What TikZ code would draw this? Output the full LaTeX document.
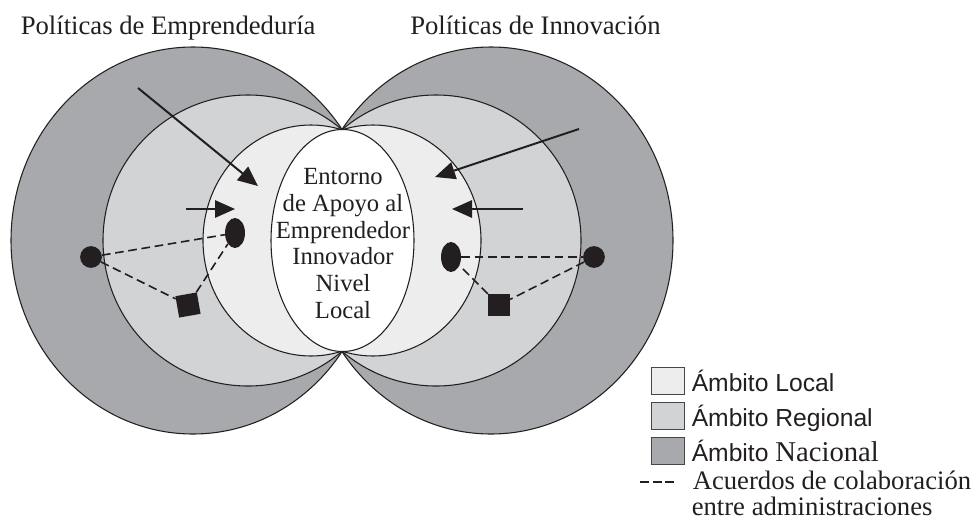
\documentclass[tikz,border=0pt]{standalone}
\usepackage{fontspec}
\setmainfont{Liberation Serif}
\setsansfont{Liberation Sans}
\usetikzlibrary{arrows.meta,shapes.geometric}
\definecolor{nat}{RGB}{167,169,172}
\definecolor{reg}{RGB}{209,211,212}
\definecolor{loc}{RGB}{237,237,237}
\definecolor{ink}{RGB}{35,31,32}
\definecolor{boxrim}{RGB}{70,70,70}
\begin{document}
\begin{tikzpicture}[x=0.75pt,y=-0.75pt,
  rim/.style={draw=ink, line width=0.8pt},
  arr/.style={draw=ink, line width=1.5pt, -{Triangle[length=15pt,width=13pt]}},
  dotcirc/.style={circle, fill=ink, inner sep=0pt, minimum size=16.3pt},
  dotell/.style={ellipse, fill=ink, inner sep=0pt, minimum width=15pt, minimum height=22.5pt},
  dotsq/.style={rectangle, fill=ink, inner sep=0pt, minimum size=16.3pt},
  link/.style={draw=ink, line width=1.2pt, dash pattern=on 6.5pt off 3.5pt},
  legbox/.style={rectangle, draw=boxrim, line width=0.6pt, inner sep=0pt, minimum width=24.5pt, minimum height=19.9pt},
  title/.style={anchor=base west, inner sep=0pt, text=ink, font=\fontsize{20}{24}\selectfont},
  legsans/.style={anchor=base west, inner sep=0pt, text=ink, font=\sffamily\fontsize{18.5}{20}\selectfont},
  legserif/.style={anchor=base west, inner sep=0pt, text=ink, font=\fontsize{20}{24}\selectfont}
]
\useasboundingbox (0,0) rectangle (977,529);

% left group
\begin{scope}
\clip (0,0) rectangle (342,529);
\filldraw[fill=nat, rim] (193,240.5) ellipse [x radius=182, y radius=193.5];
\filldraw[fill=reg, rim] (248,240.5) ellipse [x radius=145, y radius=145.5];
\filldraw[fill=loc, rim] (311,240.5) ellipse [x radius=108, y radius=115.5];
\end{scope}
% right group
\begin{scope}
\clip (342,0) rectangle (977,529);
\filldraw[fill=nat, rim] (491,240.5) ellipse [x radius=182, y radius=193.5];
\filldraw[fill=reg, rim] (436,240.5) ellipse [x radius=145, y radius=145.5];
\filldraw[fill=loc, rim] (373,240.5) ellipse [x radius=108, y radius=115.5];
\end{scope}
% centre
\filldraw[fill=white, rim] (342.5,240.5) ellipse [x radius=71.5, y radius=111];
\node[align=center, inner sep=0pt, text=ink, font=\fontsize{18.5}{20}\selectfont] (centro) at (343,243.5)
  {Entorno\\de Apoyo al\\Emprendedor\\Innovador\\Nivel\\Local};

% titles
\node[title] (t1) at (20.5,34) {Políticas de Emprendeduría};
\node[title] (t2) at (410,34) {Políticas de Innovación};

% arrows
\coordinate (a1s) at (138,88);  \coordinate (a1e) at (258,186);
\coordinate (a2s) at (186,209); \coordinate (a2e) at (235,209);
\coordinate (a3s) at (579,129); \coordinate (a3e) at (435,177);
\coordinate (a4s) at (523,209); \coordinate (a4e) at (452,209);
\draw[arr] (a1s) -- (a1e);
\draw[arr] (a2s) -- (a2e);
\draw[arr] (a3s) -- (a3e);
\draw[arr] (a4s) -- (a4e);

% actors left
\node[dotcirc] (lc) at (91,257) {};
\node[dotell] (le) at (235,233) {};
\node[dotsq, rotate=10] (ls) at (188,305) {};
\draw[link] (lc) -- (le);
\draw[link] (lc) -- (ls);
\draw[link] (ls) -- (le);
% actors right
\node[dotcirc] (rc) at (594,257) {};
\node[dotell] (re) at (451,257) {};
\node[dotsq] (rs) at (499,305) {};
\draw[link] (re) -- (rc);
\draw[link] (rc) -- (rs);
\draw[link] (rs) -- (re);

% legend
\node[legbox, fill=loc] (b1) at (668,381) {};
\node[legbox, fill=reg] (b2) at (668,416) {};
\node[legbox, fill=nat] (b3) at (668,451) {};
\node[legsans] (l1) at (691.5,391.7) {Ámbito Local};
\node[legsans] (l2) at (691.5,426.7) {Ámbito Regional};
\node[legsans] (l3) at (691.5,461) {Ámbito {\rmfamily\fontsize{21.5}{26}\selectfont Nacional}};
\coordinate (d1) at (640,482);
\coordinate (d2) at (674,482);
\draw[draw=ink, line width=2pt, dash pattern=on 6.8pt off 2.6pt] (d1) -- (d2);
\node[legserif] (l4) at (692.5,489) {Acuerdos de colaboración};
\node[legserif] (l5) at (691.5,515) {entre administraciones};
\end{tikzpicture}
\end{document}
